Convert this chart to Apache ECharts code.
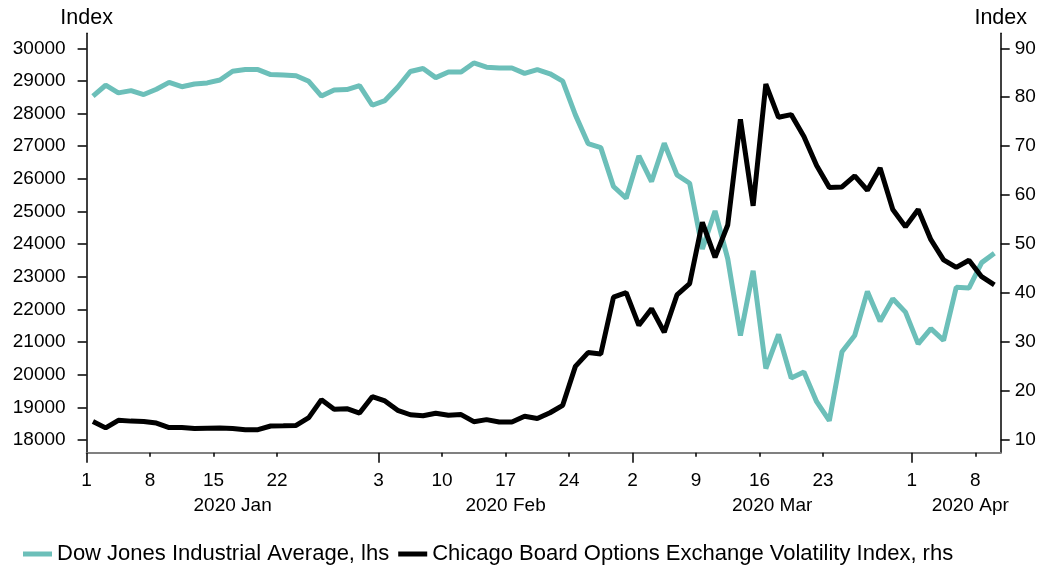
<!DOCTYPE html>
<html>
<head>
<meta charset="utf-8">
<script src="https://cdn.jsdelivr.net/npm/echarts@6/dist/echarts.min.js"></script>
<style>
  html, body { margin: 0; padding: 0; background: #fff; }
  #chart { width: 1057px; height: 567px; }
</style>
</head>
<body>
<div id="chart"></div>
<script>
// weekdays 1 Jan - 9 Apr 2020 (holidays carry the previous close)
var dates = [];
for (var t = Date.UTC(2020, 0, 1); t <= Date.UTC(2020, 3, 9); t += 86400000) {
  var d = new Date(t);
  if (d.getUTCDay() !== 0 && d.getUTCDay() !== 6) dates.push(d.toISOString().slice(0, 10));
}

var dowJones = [
  28538, 28869, 28635, 28703, 28584, 28745, 28957, 28824, 28907, 28940,
  29030, 29298, 29348, 29348, 29196, 29186, 29160, 28990, 28536, 28723,
  28735, 28859, 28256, 28400, 28808, 29291, 29380, 29103, 29277, 29276,
  29551, 29423, 29398, 29398, 29232, 29348, 29220, 28992, 27961, 27081,
  26958, 25767, 25409, 26703, 25917, 27091, 26121, 25865, 23851, 25018,
  23553, 21201, 23186, 20189, 21237, 19899, 20087, 19174, 18592, 20705,
  21201, 22552, 21637, 22328, 21917, 20944, 21413, 21053, 22680, 22654,
  23434, 23719
];
var vix = [
  13.78, 12.47, 14.02, 13.85, 13.79, 13.45, 12.54, 12.56, 12.32, 12.39,
  12.42, 12.32, 12.10, 12.10, 12.85, 12.91, 12.98, 14.56, 18.23, 16.28,
  16.39, 15.49, 18.84, 17.97, 16.05, 15.15, 14.96, 15.47, 15.04, 15.18,
  13.74, 14.15, 13.68, 13.68, 14.83, 14.38, 15.56, 17.08, 25.03, 27.85,
  27.56, 39.16, 40.11, 33.42, 36.82, 31.99, 39.62, 41.94, 54.46, 47.30,
  53.90, 75.47, 57.83, 82.69, 75.91, 76.45, 72.00, 66.04, 61.59, 61.67,
  63.95, 61.00, 65.54, 57.08, 53.54, 57.06, 50.91, 46.80, 45.24, 46.70,
  43.35, 41.67
];

var tickDates = ['2020-01-01', '2020-01-08', '2020-01-15', '2020-01-22',
  '2020-02-03', '2020-02-10', '2020-02-17', '2020-02-24',
  '2020-03-02', '2020-03-09', '2020-03-16', '2020-03-23',
  '2020-04-01', '2020-04-08'];
var monthStarts = ['2020-01-01', '2020-02-03', '2020-03-02', '2020-04-01'];
var monthLabels = ['2020 Jan', '2020 Feb', '2020 Mar', '2020 Apr'];
var leftTicks = [18000, 19000, 20000, 21000, 22000, 23000, 24000, 25000, 26000, 27000, 28000, 29000, 30000];
var rightTicks = [10, 20, 30, 40, 50, 60, 70, 80, 90];

var n = dates.length;
var tickIdx = tickDates.map(function (s) { return dates.indexOf(s); });
var monthIdx = monthStarts.map(function (s) { return dates.indexOf(s); });
var monthMid = monthIdx.map(function (s, i) {
  var e = i < monthIdx.length - 1 ? monthIdx[i + 1] : n + 2.2;
  return (s + e) / 2;
});

var font = 'Liberation Sans, Arial, sans-serif';
var teal = '#6cbfb9';

var myChart = echarts.init(document.getElementById('chart'));
var option = {
  animation: false,
  textStyle: { fontFamily: font, color: '#000' },
  grid: { left: 86.6, right: 56.3, top: 33.3, bottom: 114.3 },
  legend: {
    left: 18, top: 538,
    icon: 'rect', itemWidth: 29, itemHeight: 5, itemGap: 9, itemStyle: { borderWidth: 0 },
    textStyle: { fontFamily: font, fontSize: 22, color: '#000' },
    data: ['Dow Jones Industrial Average, lhs', 'Chicago Board Options Exchange Volatility Index, rhs']
  },
  xAxis: [{
    type: 'value', min: 0, max: n,
    axisLine: { onZero: false, lineStyle: { color: '#808080', width: 2 } },
    axisTick: { customValues: tickIdx, length: 4, lineStyle: { color: '#000', width: 1.5 } },
    axisLabel: {
      customValues: tickIdx, margin: 19, fontSize: 19, color: '#000', fontFamily: font,
      formatter: function (v) { return String(+dates[v].slice(8)); }
    },
    splitLine: { show: false }
  }, {
    type: 'value', min: 0, max: n, position: 'bottom',
    axisLine: { show: false, onZero: false },
    axisTick: { customValues: monthIdx, length: 10, lineStyle: { color: '#000', width: 1.5 } },
    axisLabel: {
      customValues: monthMid, margin: 44, fontSize: 19, color: '#000', fontFamily: font,
      formatter: function (v) { return monthLabels[monthMid.indexOf(v)]; }
    },
    splitLine: { show: false }
  }],
  yAxis: [{
    type: 'value', min: 17611, max: 30460, position: 'left',
    name: 'Index', nameLocation: 'end', nameGap: 15,
    nameTextStyle: { fontSize: 21.5, color: '#000', fontFamily: font, align: 'center', verticalAlign: 'middle' },
    axisLine: { show: true, onZero: false, lineStyle: { color: '#000', width: 1.5 } },
    axisTick: { show: true, inside: false, customValues: leftTicks, length: 9, lineStyle: { color: '#000', width: 1.5 } },
    axisLabel: { customValues: leftTicks, margin: 21, fontSize: 19, color: '#000', fontFamily: font,
      formatter: function (v) { return String(v); } },
    splitLine: { show: false }
  }, {
    type: 'value', min: 7.4, max: 93.06, position: 'right',
    name: 'Index', nameLocation: 'end', nameGap: 15,
    nameTextStyle: { fontSize: 21.5, color: '#000', fontFamily: font, align: 'center', verticalAlign: 'middle' },
    axisLine: { show: true, onZero: false, lineStyle: { color: '#000', width: 1.5 } },
    axisTick: { show: true, inside: false, customValues: rightTicks, length: 9, lineStyle: { color: '#000', width: 1.5 } },
    axisLabel: { customValues: rightTicks, margin: 14, fontSize: 19, color: '#000', fontFamily: font,
      formatter: function (v) { return String(v); } },
    splitLine: { show: false }
  }],
  series: [{
    name: 'Dow Jones Industrial Average, lhs',
    type: 'line', xAxisIndex: 0, yAxisIndex: 0,
    showSymbol: false, symbol: 'none',
    itemStyle: { color: teal },
    lineStyle: { color: teal, width: 5 },
    data: dowJones.map(function (v, i) { return [i + 0.5, v]; })
  }, {
    name: 'Chicago Board Options Exchange Volatility Index, rhs',
    type: 'line', xAxisIndex: 0, yAxisIndex: 1,
    showSymbol: false, symbol: 'none',
    itemStyle: { color: '#000' },
    lineStyle: { color: '#000', width: 5 },
    data: vix.map(function (v, i) { return [i + 0.5, v]; })
  }]
};
myChart.setOption(option);
</script>
</body>
</html>
